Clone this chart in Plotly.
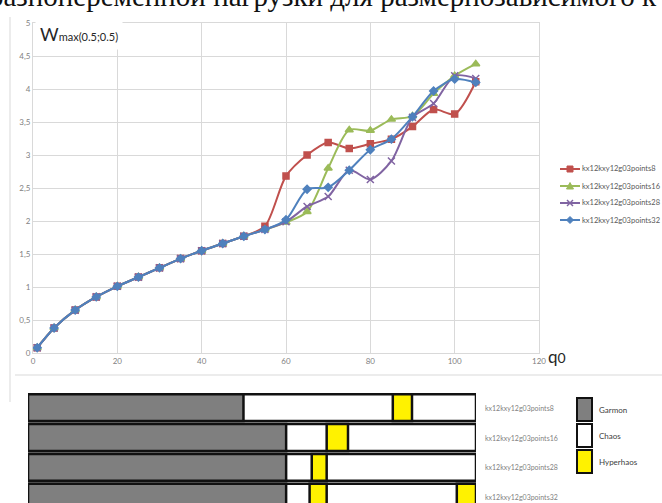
import plotly.graph_objects as go

W, H = 662, 503

def px(x):
    return x / W

def py(y):
    return 1 - y / H

# ---------------- data ----------------
q0 = [1, 5, 10, 15, 20, 25, 30, 35, 40, 45, 50, 55, 60, 65, 70, 75, 80, 85, 90, 95, 100, 105]
points8 = [0.08, 0.38, 0.65, 0.85, 1.01, 1.15, 1.29, 1.43, 1.55, 1.66, 1.77, 1.92,
           2.68, 3.00, 3.19, 3.10, 3.17, 3.24, 3.43, 3.69, 3.62, 4.11]
points16 = [0.08, 0.38, 0.65, 0.85, 1.01, 1.15, 1.29, 1.43, 1.55, 1.66, 1.77, 1.87,
            1.98, 2.14, 2.80, 3.38, 3.37, 3.54, 3.59, 3.93, 4.20, 4.38]
points28 = [0.08, 0.38, 0.65, 0.85, 1.01, 1.15, 1.29, 1.43, 1.55, 1.66, 1.77, 1.87,
            1.99, 2.22, 2.37, 2.77, 2.63, 2.91, 3.57, 3.78, 4.20, 4.16]
points32 = [0.08, 0.38, 0.65, 0.85, 1.01, 1.15, 1.29, 1.43, 1.55, 1.66, 1.77, 1.87,
            2.02, 2.48, 2.51, 2.77, 3.08, 3.24, 3.58, 3.97, 4.15, 4.10]

series_names = ["kx12kxy12g03points8", "kx12kxy12g03points16",
                "kx12kxy12g03points28", "kx12kxy12g03points32"]

y_tickvals = [0, 0.5, 1, 1.5, 2, 2.5, 3, 3.5, 4, 4.5, 5]
y_ticktext = ["0", "0,5", "1", "1,5", "2", "2,5", "3", "3,5", "4", "4,5", "5"]
x_tickvals = [0, 20, 40, 60, 80, 100, 120]

# regime bars (q0 intervals)
regime_rows = series_names
q_end = [105, 105, 105, 105]
garmon_end = [50.5, 60.5, 60.5, 60.5]
hyper_start = [[85.5], [70.0], [66.5], [66.0, 100.5]]
hyper_end = [[90.0], [75.0], [70.0], [70.0, 105.0]]
regime_names = ["Garmon", "Chaos", "Hyperhaos"]

header_text = "разнопеременной нагрузки для размернозависимого к"

# ---------------- styles ----------------
colors = ["#C0504D", "#9BBB59", "#8064A2", "#4F81BD"]
symbols = ["square", "triangle-up", "x-thin", "diamond"]
sizes = [6, 7, 7, 6]
regime_colors = ["#7F7F7F", "#FFFFFF", "#FFF200"]
FONT = "Lato, 'Open Sans', sans-serif"

fig = go.Figure()

for name, ys, c, s, sz in zip(series_names, [points8, points16, points28, points32],
                              colors, symbols, sizes):
    fig.add_trace(go.Scatter(
        x=q0, y=ys, name=name, mode="lines+markers",
        line=dict(color=c, width=2, shape="spline", smoothing=0.8),
        marker=dict(symbol=s, size=sz, color=c, line=dict(color=c, width=1.5)),
        xaxis="x", yaxis="y", showlegend=False,
    ))

# regime bars
rows_idx = list(range(len(regime_rows)))
fig.add_trace(go.Bar(
    y=rows_idx, x=q_end, base=[0] * len(rows_idx), orientation="h",
    marker=dict(color=regime_colors[1], line=dict(color="#111111", width=2.5)),
    width=0.9, showlegend=False, xaxis="x2", yaxis="y2", hoverinfo="skip",
))
fig.add_trace(go.Bar(
    y=rows_idx, x=garmon_end, base=[0] * len(rows_idx), orientation="h",
    marker=dict(color=regime_colors[0], line=dict(color="#111111", width=2.5)),
    width=0.9, showlegend=False, xaxis="x2", yaxis="y2", hoverinfo="skip",
))
hy_y, hy_b, hy_len = [], [], []
for i, (st, en) in enumerate(zip(hyper_start, hyper_end)):
    for a, b in zip(st, en):
        hy_y.append(i)
        hy_b.append(a)
        hy_len.append(b - a)
fig.add_trace(go.Bar(
    y=hy_y, x=hy_len, base=hy_b, orientation="h",
    marker=dict(color=regime_colors[2], line=dict(color="#111111", width=2.5)),
    width=0.9, showlegend=False, xaxis="x2", yaxis="y2", hoverinfo="skip",
))

grid = "#D9D9D9"
tickfont = dict(family=FONT, size=8, color="#7F7F7F")

# bar axis geometry (pixels)
bar_top_px = 392.8
pitch = 29.8
bar_bottom_val = -0.5 + (H - bar_top_px) / pitch

fig.update_layout(
    width=W, height=H,
    margin=dict(l=0, r=0, t=0, b=0, autoexpand=False),
    paper_bgcolor="white", plot_bgcolor="white",
    barmode="overlay",
    showlegend=False,
    xaxis=dict(
        domain=[px(33), px(539)], range=[0, 120], tickvals=x_tickvals,
        showgrid=True, gridcolor=grid, gridwidth=1, zeroline=False,
        showline=True, linecolor=grid, mirror=True, automargin=False,
        tickfont=tickfont, ticks="", anchor="y",
    ),
    yaxis=dict(
        domain=[py(353), py(23)], range=[0, 5], tickvals=y_tickvals, ticktext=y_ticktext,
        showgrid=True, gridcolor=grid, gridwidth=1, zeroline=False,
        showline=True, linecolor=grid, mirror=True, automargin=False,
        tickfont=tickfont, ticks="", anchor="x",
    ),
    xaxis2=dict(
        domain=[px(28), px(476)], range=[0, 105], visible=False, anchor="y2",
        automargin=False,
    ),
    yaxis2=dict(
        domain=[0, py(bar_top_px)], range=[bar_bottom_val, -0.5], visible=False,
        anchor="x2", automargin=False,
    ),
)

# Wmax label
fig.add_annotation(
    xref="paper", yref="paper", x=px(35), y=py(34), xanchor="left", yanchor="middle",
    text="W<span style='font-size:11px'>max(0.5;0.5)</span>",
    showarrow=False, font=dict(family=FONT, size=18, color="#262626"),
    bgcolor="white", borderpad=4,
)
# q0 label
fig.add_annotation(
    xref="paper", yref="paper", x=px(546), y=py(356), xanchor="left", yanchor="middle",
    text="q<span style='font-size:14px'>0</span>",
    showarrow=False, font=dict(family=FONT, size=17, color="#262626"),
)

# top (cut-off) line of document text
fig.add_annotation(
    xref="paper", yref="paper", x=px(-13), y=py(14), xanchor="left", yanchor="bottom",
    text=header_text,
    showarrow=False, font=dict(family="Liberation Serif", size=29, color="#111111"),
)

# manual legend for the line series
leg_rows = [169, 186, 203, 220]
for name, c, s, yy in zip(series_names, colors, symbols, leg_rows):
    fig.add_shape(type="line", xref="paper", yref="paper",
                  x0=px(560), x1=px(580), y0=py(yy), y1=py(yy),
                  line=dict(color=c, width=2))
    cx = 570
    if s == "square":
        fig.add_shape(type="rect", xref="paper", yref="paper",
                      x0=px(cx - 3), x1=px(cx + 3), y0=py(yy - 3), y1=py(yy + 3),
                      fillcolor=c, line=dict(color=c, width=1))
    elif s == "triangle-up":
        fig.add_shape(type="path", xref="paper", yref="paper",
                      path=f"M {px(cx-3.5)} {py(yy+3)} L {px(cx+3.5)} {py(yy+3)} L {px(cx)} {py(yy-3.5)} Z",
                      fillcolor=c, line=dict(color=c, width=1))
    elif s == "x-thin":
        fig.add_shape(type="line", xref="paper", yref="paper",
                      x0=px(cx - 3), x1=px(cx + 3), y0=py(yy - 3), y1=py(yy + 3),
                      line=dict(color=c, width=1.5))
        fig.add_shape(type="line", xref="paper", yref="paper",
                      x0=px(cx - 3), x1=px(cx + 3), y0=py(yy + 3), y1=py(yy - 3),
                      line=dict(color=c, width=1.5))
    else:
        fig.add_shape(type="path", xref="paper", yref="paper",
                      path=f"M {px(cx-3.5)} {py(yy)} L {px(cx)} {py(yy-3.5)} L {px(cx+3.5)} {py(yy)} L {px(cx)} {py(yy+3.5)} Z",
                      fillcolor=c, line=dict(color=c, width=1))
    fig.add_annotation(
        xref="paper", yref="paper", x=px(581), y=py(yy), xanchor="left", yanchor="middle",
        text=name, showarrow=False, borderpad=0,
        font=dict(family=FONT, size=7.5, color="#595959"),
    )

# row labels of regime bars
row_centers = [bar_top_px + pitch * (i + 0.5) for i in range(len(regime_rows))]
for name, yc in zip(regime_rows, row_centers):
    fig.add_annotation(
        xref="paper", yref="paper", x=px(483), y=py(yc), xanchor="left", yanchor="middle",
        text=name, showarrow=False, font=dict(family=FONT, size=7, color="#7F7F7F"),
    )

# regime legend boxes
box_tops = [398, 424, 450]
for name, col, top in zip(regime_names, regime_colors, box_tops):
    fig.add_shape(type="rect", xref="paper", yref="paper",
                  x0=px(577), x1=px(592), y0=py(top), y1=py(top + 23),
                  fillcolor=col, line=dict(color="#111111", width=2))
    fig.add_annotation(
        xref="paper", yref="paper", x=px(597), y=py(top + 11.5), xanchor="left",
        yanchor="middle", text=name, showarrow=False,
        font=dict(family=FONT, size=8, color="#404040"),
    )

# chart frame fragments
fig.add_shape(type="line", xref="paper", yref="paper",
              x0=px(10), x1=px(10), y0=py(17), y1=py(402),
              line=dict(color="#D9D9D9", width=1))
fig.add_shape(type="line", xref="paper", yref="paper",
              x0=px(15), x1=px(662), y0=py(375), y1=py(375),
              line=dict(color="#D9D9D9", width=1))

fig.write_html("out.html")
